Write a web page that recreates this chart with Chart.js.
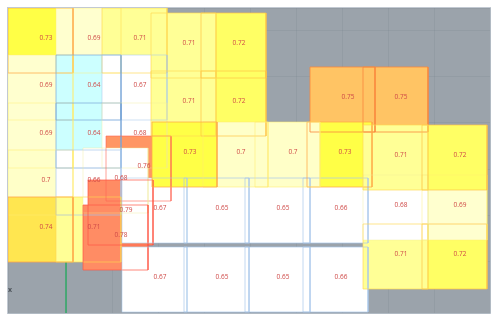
<!DOCTYPE html>
<html>
<head>
<meta charset="utf-8">
<style>html,body{margin:0;padding:0;background:#fff}canvas{display:block}</style>
<script src="https://cdn.jsdelivr.net/npm/chart.js@4"></script>
</head>
<body>
<canvas id="c" width="496" height="318"></canvas>
<script>
// Cells in paint order: value, left edge and top edge in plan units (origin at green axis, y up)
const cellValues = [0.75,0.75,
  0.73,0.69,0.71, 0.69,0.64,0.67, 0.69,0.64,0.68, 0.7,0.66, 0.74,0.71,
  0.76,0.68,0.79,0.78,
  0.67,0.65,0.65,0.66, 0.67,0.65,0.65,0.66,
  0.72,0.71,0.72,0.71,
  0.73,0.7,0.7,0.73,
  0.72,0.71,0.69,0.68,0.72,0.71];
const cellLeft = [244,297,
  -58,-10,36, -58,-10,36, -58,-10,36, -58,-10, -58,-10,
  40,17,22,17,
  56,118,179,237, 56,118,179,237,
  135,85,135,85,
  241,189,137,86,
  356,297,356,297,356,297];
const cellTop = [194,194,
  253,253,253, 206,206,206, 158,158,158, 111,111, 64,64,
  125,113,81,56,
  83,83,83,83, 14,14,14,14,
  248,248,190,190,
  139,139,139,139,
  37,37,86,86,136,136];
const cellSize = 65;

const fills = {0.64:'#ccffff',0.65:'#ffffff',0.66:'#ffffff',0.67:'#ffffff',0.68:'#ffffff',0.69:'#ffffcf',0.7:'#ffffc8',0.71:'#ffff96',0.72:'#ffff64',0.73:'#ffff46',0.74:'#ffe650',0.75:'#ffc464',0.76:'#ff9664',0.78:'#ff8c64',0.79:'#ff8c64'};
const lines = {0.64:'rgba(120,165,215,0.7)',0.65:'rgba(170,200,235,0.7)',0.66:'rgba(170,200,235,0.7)',0.67:'rgba(170,200,235,0.55)',0.68:'rgba(240,235,150,0.4)',0.69:'rgba(255,235,110,0.45)',0.7:'rgba(255,235,110,0.55)',0.71:'rgba(255,215,80,0.65)',0.72:'rgba(255,195,70,0.7)',0.73:'rgba(255,170,70,0.75)',0.74:'rgba(255,165,70,0.8)',0.75:'rgba(250,135,60,0.8)',0.76:'rgba(255,100,85,0.6)',0.78:'rgba(255,85,70,0.7)',0.79:'rgba(255,85,70,0.7)'};

function corners(i){
  const x0=cellLeft[i],y0=cellTop[i],x1=x0+cellSize,y1=y0-cellSize;
  return [{x:x0,y:y0},{x:x1,y:y0},{x:x1,y:y1},{x:x0,y:y1},{x:x0,y:y0}];
}
const drawList = [];
drawList.push({data:[{x:0,y:-52},{x:0,y:254}],showLine:true,pointRadius:0,borderColor:'#2fa866',borderWidth:1.5,fill:false});
cellValues.forEach((v,i)=>drawList.push({data:corners(i),showLine:true,pointRadius:0,borderWidth:0,borderColor:'rgba(0,0,0,0)',backgroundColor:fills[v],fill:'shape',tension:0}));
cellValues.forEach((v,i)=>drawList.push({data:corners(i),showLine:true,pointRadius:0,borderWidth:1,borderColor:lines[v],fill:false,tension:0}));
drawList.forEach((d,i)=>{d.order=drawList.length-i;});

const plate = {
  id:'plate',
  beforeDraw(ch){
    const a=ch.chartArea,g=ch.ctx;
    g.save();
    g.fillStyle='#9ba3ab';
    g.fillRect(a.left,a.top,a.width,a.height);
    g.strokeStyle='#c2c9d2';g.lineWidth=1;
    g.strokeRect(a.left-0.5,a.top-0.5,a.width+1,a.height+1);
    g.restore();
  },
  afterDatasetsDraw(ch){
    const g=ch.ctx,sx=ch.scales.x,sy=ch.scales.y;
    g.save();
    g.font='6.5px "Open Sans"';g.textAlign='center';g.textBaseline='middle';
    g.fillStyle='#cf4a48';
    cellValues.forEach((v,i)=>{
      g.fillText(String(v),sx.getPixelForValue(cellLeft[i]+38),sy.getPixelForValue(cellTop[i]-30));
    });
    g.font='bold 7px "Open Sans"';g.fillStyle='#4e555c';
    g.fillText('x',ch.chartArea.left+2,290);
    g.restore();
  }
};

new Chart(document.getElementById('c'),{
  type:'scatter',
  data:{datasets:drawList},
  plugins:[plate],
  options:{
    responsive:false,animation:false,
    layout:{padding:{left:8,right:6,top:8,bottom:5}},
    plugins:{legend:{display:false},tooltip:{enabled:false},filler:{propagate:false}},
    scales:{
      x:{type:'linear',min:-58,max:424,border:{display:false},grid:{color:'rgba(120,130,140,0.22)',drawTicks:false},ticks:{display:false,stepSize:46}},
      y:{type:'linear',min:-52,max:253,border:{display:false},grid:{color:'rgba(120,130,140,0.22)',drawTicks:false},ticks:{display:false,stepSize:46}}
    }
  }
});
</script>
</body>
</html>
